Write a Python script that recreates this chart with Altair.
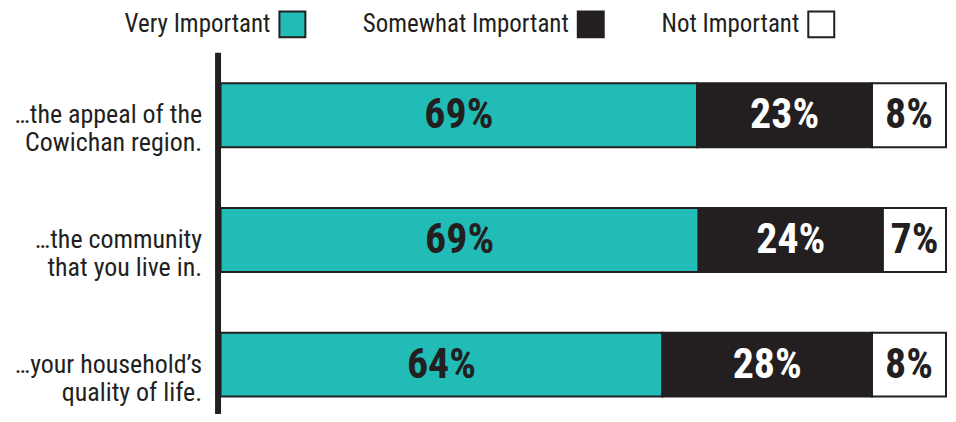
import altair as alt
import pandas as pd

# ---- data ----
categories = [
    "\u2026the appeal of the|Cowichan region.",
    "\u2026the community|that you live in.",
    "\u2026your household\u2019s|quality of life.",
]
levels = ["Very Important", "Somewhat Important", "Not Important"]
very_pct = [69, 69, 64]
somewhat_pct = [23, 24, 28]
not_pct = [8, 7, 8]
# drawn segment lengths as they appear in the picture (share of bar, %)
very_len = [65.7, 65.9, 60.9]
somewhat_len = [24.1, 25.4, 28.9]
not_len = [10.2, 8.7, 10.2]

fill_colors = ["#22bcb7", "#231f20", "#ffffff"]
text_colors = ["#231f20", "#ffffff", "#231f20"]

rows = []
for i, c in enumerate(categories):
    for j, (lvl, pcts, lens) in enumerate(zip(levels, [very_pct, somewhat_pct, not_pct],
                                               [very_len, somewhat_len, not_len])):
        rows.append({"cat": c, "level": lvl, "ord": j, "len": lens[i],
                     "label": f"{pcts[i]}%", "tc": text_colors[j]})
df = pd.DataFrame(rows)

FONT = "Liberation Sans Narrow, Roboto Condensed, DejaVu Sans Condensed, sans-serif"
DARK = "#231f20"

y_enc = alt.Y(
    "cat:N", sort=categories, title=None,
    scale=alt.Scale(paddingInner=0.488, paddingOuter=0.192, align=0.646),
    axis=alt.Axis(
        labelExpr="split(datum.label, '|')", labelFont=FONT, labelFontSize=26,
        labelColor=DARK, labelLineHeight=28, labelAlign="right", labelBaseline="middle",
        labelPadding=16, ticks=False, tickSize=0, domainWidth=6, domainColor=DARK,
        offset=3, labelLimit=0, grid=False,
    ),
)

x_scale = alt.Scale(domain=[0, 100], nice=False, zero=True)

bars = alt.Chart(df).mark_bar(stroke=DARK, strokeWidth=2).encode(
    y=y_enc,
    x=alt.X("len:Q", stack="zero", scale=x_scale, axis=None),
    color=alt.Color(
        "level:N", sort=levels,
        scale=alt.Scale(domain=levels, range=fill_colors),
        legend=alt.Legend(
            title=None, orient="none", legendX=58, legendY=-42, direction="horizontal",
            symbolType="square", symbolSize=676, symbolStrokeColor=DARK,
            symbolStrokeWidth=2, symbolOpacity=1, labelFont=FONT, labelFontSize=25,
            labelColor=DARK, labelAlign="right", labelOffset={"expr": "-36"},
            columnPadding=53, labelLimit=0,
        ),
    ),
    order=alt.Order("ord:Q"),
)

text = alt.Chart(df).transform_window(
    cum="sum(len)", groupby=["cat"], sort=[alt.SortField("ord")], frame=[None, 0]
).transform_calculate(
    mid="datum.cum - datum.len / 2"
).mark_text(font=FONT, fontSize=42, fontWeight="bold", baseline="middle", align="center").encode(
    y=alt.Y("cat:N", sort=categories),
    x=alt.X("mid:Q", scale=x_scale),
    text="label:N",
    fill=alt.Fill("tc:N", scale=None),
)

chart = alt.layer(bars, text).properties(
    width=727, height=362, padding={"left": 5, "top": 2, "right": 0, "bottom": 0}
).configure_view(stroke=None)

chart.save("out.html", embed_options={"renderer": "svg", "actions": False})
